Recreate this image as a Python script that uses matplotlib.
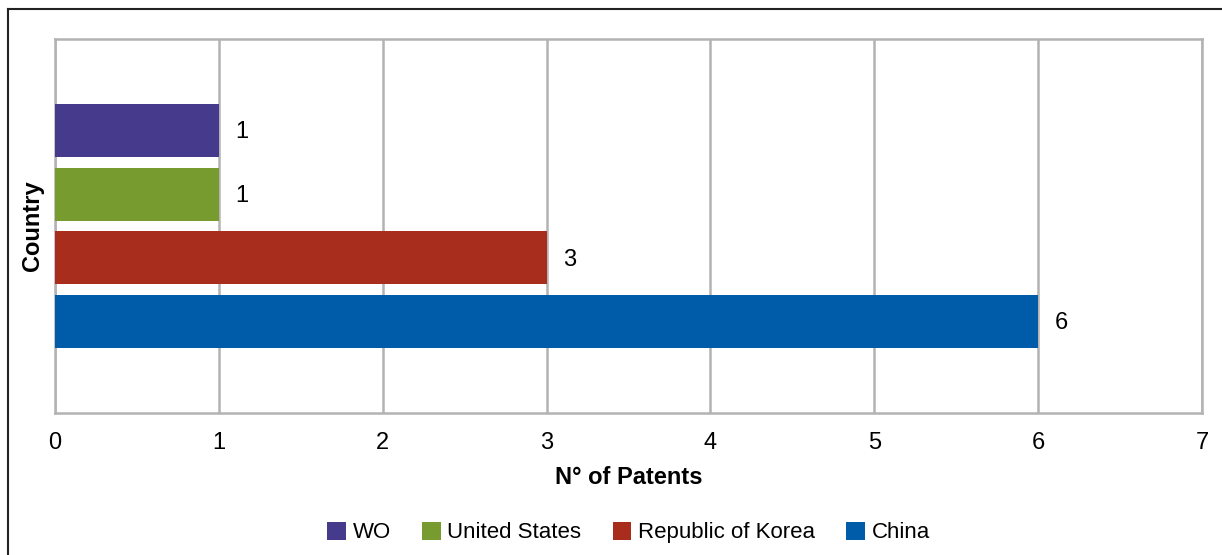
import matplotlib.pyplot as plt
from matplotlib.lines import Line2D

countries = ["WO", "United States", "Republic of Korea", "China"]
patents = [1, 1, 3, 6]
colors = ["#463a8d", "#779b2f", "#a92d1d", "#005ca9"]
x_ticks = [0, 1, 2, 3, 4, 5, 6, 7]

plt.rcParams['font.family'] = ['Liberation Sans', 'DejaVu Sans']

fig = plt.figure(figsize=(12.22, 5.55), dpi=100)
ax = fig.add_axes([55 / 1222, 1 - 413 / 555, 1147 / 1222, 374 / 555])

# outer frame (top and left visible in the reference)
fig.add_artist(Line2D([8 / 1222, 8 / 1222], [0, 1 - 9 / 555], transform=fig.transFigure,
                      color="#222222", lw=1.5))
fig.add_artist(Line2D([8 / 1222, 1], [1 - 9 / 555, 1 - 9 / 555], transform=fig.transFigure,
                      color="#222222", lw=1.5))

offsets = [0.2555, 0.0852, -0.0852, -0.2555]
for name, val, col, off in zip(countries, patents, colors, offsets):
    ax.barh(off, val, height=0.142, color=col, label=name, zorder=3)
    ax.text(val + 0.1, off - 0.005, str(val), va="center", ha="left", fontsize=17)

ax.set_xlim(0, 7)
ax.set_ylim(-0.5, 0.5)
ax.set_xticks(x_ticks)
ax.set_yticks([])
ax.tick_params(axis="x", length=0, labelsize=17, pad=14)
ax.grid(axis="x", color="#b3b3b3", lw=1.8, zorder=0)
for s in ax.spines.values():
    s.set_color("#b3b3b3")
    s.set_linewidth(1.8)

ax.set_xlabel("N° of Patents", fontsize=17, fontweight="bold", labelpad=8)
ax.set_ylabel("Country", fontsize=17, fontweight="bold", labelpad=8)

ax.legend(loc="center", bbox_to_anchor=(0.5, -0.32), ncol=4, frameon=False,
          prop={'size': 16},
          handlelength=0.85, handleheight=0.85, handletextpad=0.3, columnspacing=1.4)

plt.savefig("out.png", dpi=100)
plt.close()
